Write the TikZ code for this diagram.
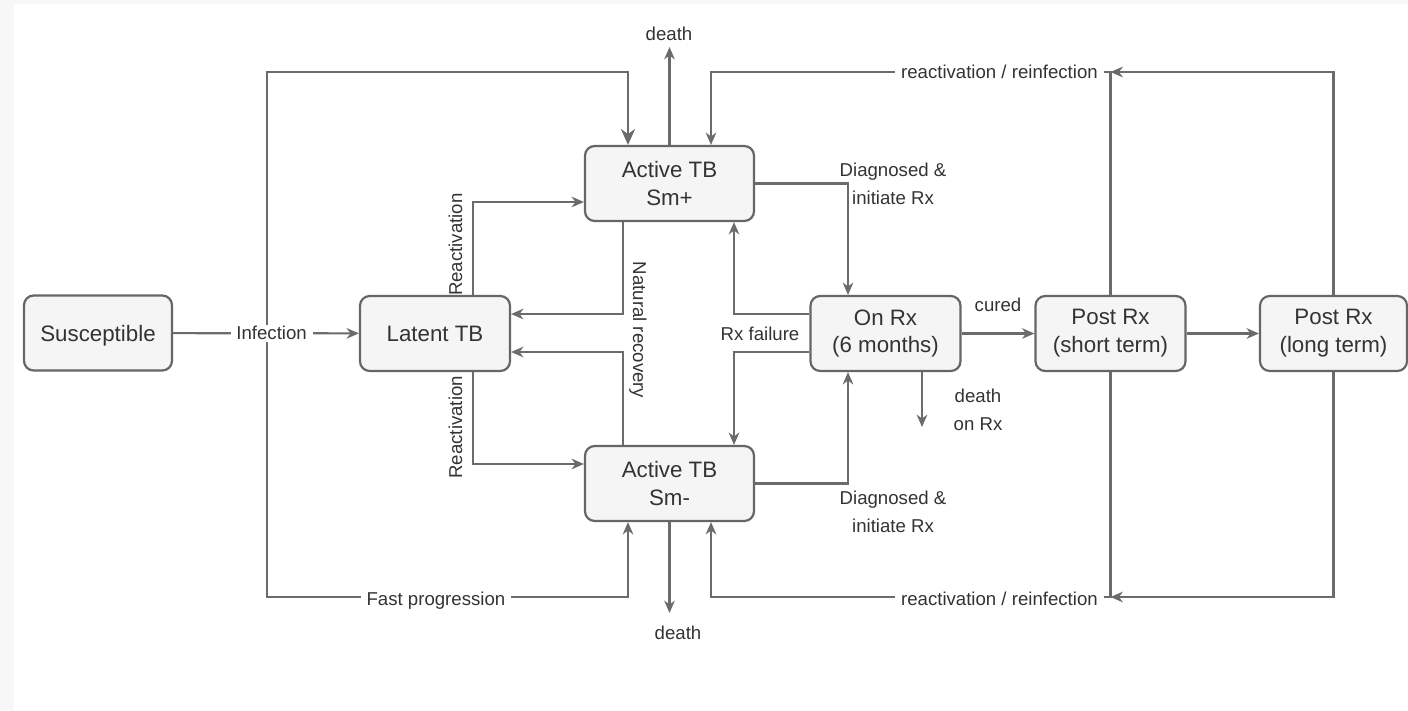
\documentclass[tikz,border=0pt]{standalone}
\usepackage{fontspec}
\setmainfont{Liberation Sans}
\usetikzlibrary{arrows.meta,calc,positioning}
\definecolor{linea}{HTML}{6B6B6B}
\definecolor{borde}{HTML}{666666}
\definecolor{fondo}{HTML}{F5F5F5}
\definecolor{tinta}{HTML}{333333}
\definecolor{marco}{HTML}{F7F7F7}
\tikzset{
  caja/.style={rectangle,rounded corners=5.5pt,draw=borde,fill=fondo,line width=1.25pt,minimum width=3cm,minimum height=1.5cm,inner sep=2pt,align=center,text=tinta,font=\fontsize{12.7}{15.9}\selectfont},
  flecha/.style={draw=linea,line width=1.25pt,-{Stealth[length=7pt,width=6pt,inset=2.2pt]}},
  flechagr/.style={flecha,-{Stealth[length=9pt,width=8pt,inset=2.8pt]}},
  etiq/.style={text=tinta,font=\fontsize{10.6}{15.9}\selectfont,align=center},
  etiqf/.style={etiq,fill=white,inner ysep=1pt},
}

\begin{document}
\begin{tikzpicture}[x=0.02cm,y=-0.02cm]
  \useasboundingbox (0,0) rectangle (1408,710);
  \fill[marco] (0,0) rectangle (1408,710);
  \fill[white] (14,4) rectangle (1408,710);
  % estados
  \node[caja,minimum width=2.96cm,text depth=0pt] (susc) at (98,333) {Susceptible};
  \node[caja] (lat) at (435,333.5) {Latent TB};
  \node[caja,minimum width=3.38cm] (smp) at (669.5,183.5) {Active TB\\Sm+};
  \node[caja,minimum width=3.38cm] (smn) at (669.5,483.5) {Active TB\\Sm-};
  \node[caja] (onrx) at (885.5,333.5) {On Rx\\(6 months)};
  \node[caja] (postc) at (1110.5,333.5) {Post Rx\\(short term)};
  \node[caja,minimum width=2.94cm] (postl) at (1333.5,333.5) {Post Rx\\(long term)};
  % infeccion y progresion rapida
  \coordinate (bif) at (267,333);
  \draw[flechagr] (bif) -- (267,72) -| (smp.north -| 628,0);
  \draw[flecha] (bif) -- (267,597) -| node[pos=0.234,etiqf,yshift=-2pt] (tfast) {Fast progression} (smn.south -| 628,0);
  \draw[flecha] (susc) -- node[pos=0.53,etiqf] (tinf) {Infection} (lat);
  % reactivacion
  \draw[flecha] (lat.north -| 473,0) |- node[pos=0.27,etiq,rotate=90,anchor=south,inner sep=5.5pt] (treac1) {Reactivation} (smp.west |- 0,202);
  \draw[flecha] (lat.south -| 473,0) |- node[pos=0.3,etiq,rotate=90,anchor=south,inner sep=5.5pt] (treac2) {Reactivation} (smn.west |- 0,464);
  % recuperacion natural
  \draw[flecha] (smp.south -| 623,0) |- (lat.east |- 0,314);
  \draw[flecha] (smn.north -| 623,0) |- (lat.east |- 0,352);
  \node[etiq,rotate=-90] (tnat) at (638,330) {Natural recovery};
  % muertes
  \node[etiq] (tm1) at (669,34) {death};
  \draw[flecha] (smp.north) -- (smp.north |- tm1.south);
  \node[etiq] (tm2) at (678,633) {death};
  \draw[flecha] (smn.south) -- (smn.south |- 0,613);
  \node[etiq] (tm3) at (978,410) {death\\on Rx};
  \draw[flecha] (onrx.south -| 922,0) -- (922,427);
  % diagnostico
  \draw[flecha] (smp.east) -| (onrx.north -| 848,0);
  \node[etiq] (tdiag1) at (893,184) {Diagnosed \&\\initiate Rx};
  \draw[flecha] (smn.east) -| (onrx.south -| 848,0);
  \node[etiq] (tdiag2) at (893,512) {Diagnosed \&\\initiate Rx};
  % fallo
  \draw[flecha] (onrx.west |- 0,314) -| (smp.south -| 734,0);
  \draw[flecha] (onrx.west |- 0,352) -| (smn.north -| 734,0);
  \node[etiq] (tfail) at (760,334) {Rx failure};
  % post tratamiento
  \draw[flecha] (onrx) -- node[etiq,above=8.5pt] (tcur) {cured} (postc);
  \draw[flecha] (postc) -- (postl);
  % reactivacion / reinfeccion
  \draw[flecha] (postc.north) -- (postc.north |- 0,72) -| node[pos=0.139,etiqf] (trr1) {reactivation / reinfection} (smp.north -| 711,0);
  \draw[flecha] (postl.north) |- (postc.north |- 0,72);
  \draw[flecha] (postc.south) -- (postc.south |- 0,597) -| node[pos=0.139,etiqf,yshift=-1pt] (trr2) {reactivation / reinfection} (smn.south -| 711,0);
  \draw[flecha] (postl.south) |- (postc.south |- 0,597);
\end{tikzpicture}
\end{document}
